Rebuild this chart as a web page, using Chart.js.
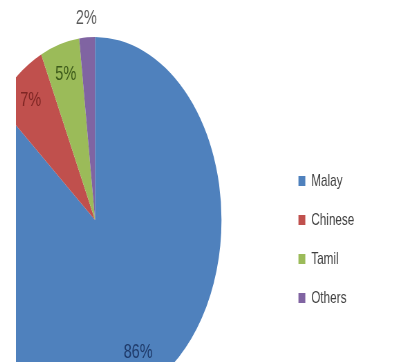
<!DOCTYPE html>
<html>
<head>
<meta charset="utf-8">
<script src="https://cdn.jsdelivr.net/npm/chart.js@4"></script>
<style>
  html, body { margin: 0; padding: 0; background: #fff; }
  #frame { position: relative; width: 412px; height: 362px; overflow: hidden; background: #fff; }
  #clip { position: absolute; left: 16px; top: 0; width: 396px; height: 362px; overflow: hidden; }
  /* the chart is laid out wide and then narrowed horizontally */
  #stage { position: absolute; left: -16px; top: 0; width: 700px; height: 420px;
           transform: scaleX(0.69); transform-origin: 0 0; }
  #box { position: absolute; left: -134.6px; top: -3px; width: 657.5px; height: 406px; }
</style>
</head>
<body>
<div id="frame">
  <div id="clip">
    <div id="stage">
      <div id="box"><canvas id="chart"></canvas></div>
    </div>
  </div>
</div>
<script>
// Ethnic composition
const categories = ['Malay', 'Chinese', 'Tamil', 'Others'];
const shares = [86, 7, 5, 2];

const sliceColors = ['#4F81BD', '#C0504D', '#9BBB59', '#8064A2'];
const labelColors = ['#1F3A6A', '#7E2624', '#3C5A1A', '#595959'];
// radial placement of each percentage label (fraction of the radius, or outside)
const labelRadius = [0.8, 0.83, 0.83, 'outside'];

const percentLabels = {
  id: 'percentLabels',
  afterDatasetsDraw(chart) {
    const ctx = chart.ctx;
    const meta = chart.getDatasetMeta(0);
    ctx.save();
    ctx.font = '21px "Liberation Sans", Arial, sans-serif';
    ctx.textAlign = 'center';
    ctx.textBaseline = 'middle';
    meta.data.forEach((arc, i) => {
      const p = arc.getProps(['x', 'y', 'startAngle', 'endAngle', 'outerRadius'], true);
      const mid = (p.startAngle + p.endAngle) / 2;
      const r = labelRadius[i] === 'outside' ? p.outerRadius + 19 : p.outerRadius * labelRadius[i];
      ctx.fillStyle = labelColors[i];
      ctx.fillText(chart.data.datasets[0].data[i] + '%', p.x + Math.cos(mid) * r, p.y + Math.sin(mid) * r);
    });
    ctx.restore();
  }
};

new Chart(document.getElementById('chart'), {
  type: 'pie',
  data: {
    labels: categories,
    datasets: [{
      data: shares,
      backgroundColor: sliceColors,
      borderWidth: 0
    }]
  },
  options: {
    responsive: true,
    maintainAspectRatio: false,
    animation: false,
    layout: { padding: { top: 40, bottom: 0, left: 0, right: 0 } },
    plugins: {
      tooltip: { enabled: false },
      legend: {
        position: 'right',
        align: 'center',
        title: { display: true, text: '', font: { size: 12 }, padding: { top: 0, bottom: 24.6 } },
        labels: {
          boxWidth: 10,
          boxHeight: 10,
          padding: 22,
          color: '#404040',
          font: { family: '"Liberation Sans", Arial, sans-serif', size: 17 }
        }
      }
    }
  },
  plugins: [percentLabels]
});
</script>
</body>
</html>
